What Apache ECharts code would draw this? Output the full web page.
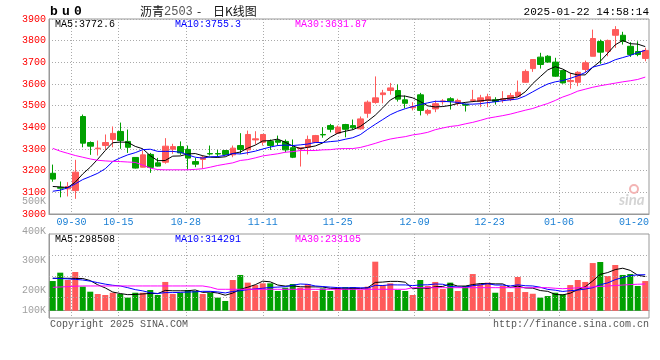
<!DOCTYPE html>
<html><head><meta charset="utf-8">
<script src="https://cdn.jsdelivr.net/npm/echarts@6/dist/echarts.min.js"></script>
<style>html,body{margin:0;padding:0;background:#fff}#c{width:660px;height:360px}</style>
</head><body><div id="c"></div>
<script>
// ---------- data ----------
const dates = ['09-25','09-26','09-27','09-30','10-08','10-09','10-10','10-11','10-14','10-15','10-16','10-17','10-18','10-21','10-22','10-23','10-24','10-25','10-28','10-29','10-30','10-31','11-01','11-04','11-05','11-06','11-07','11-08','11-11','11-12','11-13','11-14','11-15','11-18','11-19','11-20','11-21','11-22','11-25','11-26','11-27','11-28','11-29','12-02','12-03','12-04','12-05','12-06','12-09','12-10','12-11','12-12','12-13','12-16','12-17','12-18','12-19','12-20','12-23','12-24','12-25','12-26','12-27','12-30','12-31','01-02','01-03','01-06','01-07','01-08','01-09','01-10','01-13','01-14','01-15','01-16','01-17','01-20','01-21','01-22'];
const opens  = [3188,3122,3116,3108,3450,3330,3301,3316,3344,3381,3335,3261,3216,3275,3236,3239,3299,3311,3298,3242,3252,3279,3279,3293,3273,3316,3296,3342,3331,3335,3339,3335,3306,3301,3308,3331,3367,3408,3373,3413,3408,3393,3465,3515,3551,3570,3570,3527,3490,3550,3465,3485,3518,3532,3511,3506,3524,3519,3524,3527,3527,3528,3544,3608,3671,3724,3728,3701,3662,3611,3608,3667,3728,3796,3751,3825,3825,3774,3750,3718];
const closes = [3161,3119,3127,3193,3327,3313,3304,3330,3372,3339,3308,3212,3273,3215,3221,3313,3311,3282,3258,3230,3262,3277,3277,3275,3304,3298,3367,3347,3367,3316,3331,3296,3262,3306,3344,3362,3365,3391,3401,3391,3398,3439,3516,3536,3559,3582,3530,3511,3496,3478,3478,3509,3522,3521,3524,3502,3527,3536,3541,3519,3532,3547,3562,3658,3713,3690,3701,3636,3605,3616,3654,3698,3810,3747,3801,3851,3797,3736,3736,3755];
const lows   = [3149,3077,3081,3070,3308,3273,3270,3296,3308,3301,3282,3210,3215,3190,3219,3232,3278,3273,3205,3216,3209,3270,3262,3272,3262,3278,3273,3321,3316,3296,3316,3285,3258,3219,3275,3328,3352,3377,3370,3354,3389,3389,3444,3509,3511,3551,3519,3488,3478,3455,3455,3470,3505,3482,3501,3473,3516,3493,3493,3505,3513,3521,3541,3605,3656,3671,3698,3633,3602,3578,3590,3652,3728,3693,3728,3767,3782,3725,3728,3705];
const highs  = [3228,3150,3147,3250,3459,3335,3339,3367,3404,3422,3390,3262,3293,3282,3259,3350,3324,3335,3316,3259,3270,3316,3296,3295,3316,3373,3385,3382,3367,3344,3362,3344,3344,3306,3362,3365,3401,3416,3408,3416,3436,3450,3524,3635,3573,3605,3598,3547,3516,3559,3485,3524,3530,3539,3532,3510,3573,3550,3555,3539,3567,3559,3616,3667,3713,3744,3733,3721,3665,3652,3659,3708,3851,3805,3805,3867,3841,3793,3797,3767];
const ma5  = [3127,3125,3122,3147,3185,3216,3253,3293,3329,3332,3331,3312,3301,3269,3246,3247,3267,3268,3277,3279,3269,3262,3261,3264,3279,3286,3304,3318,3337,3339,3346,3331,3314,3302,3308,3314,3328,3354,3373,3382,3389,3404,3429,3456,3490,3526,3545,3544,3536,3519,3499,3494,3496,3501,3510,3515,3519,3522,3526,3525,3531,3535,3540,3564,3602,3634,3665,3680,3669,3650,3642,3642,3677,3705,3742,3781,3801,3786,3784,3772.6];
const ma10 = [3105,3110,3121,3139,3159,3173,3188,3209,3242,3259,3273,3283,3297,3299,3289,3289,3289,3285,3273,3262,3258,3264,3265,3271,3279,3277,3283,3290,3300,3309,3316,3318,3316,3319,3323,3330,3330,3334,3337,3345,3352,3366,3391,3414,3436,3458,3474,3486,3496,3505,3513,3520,3520,3518,3515,3507,3507,3509,3514,3518,3523,3527,3531,3545,3564,3583,3600,3610,3616,3626,3638,3653,3678,3687,3696,3712,3722,3732,3745,3755.3];
const ma30 = [3303,3290,3280,3270,3262,3254,3248,3245,3243,3242,3240,3238,3226,3212,3205,3204,3204,3204,3204,3206,3209,3216,3224,3230,3236,3247,3251,3259,3268,3273,3278,3285,3288,3293,3293,3293,3296,3297,3301,3302,3302,3307,3316,3326,3337,3346,3352,3357,3365,3370,3377,3389,3397,3404,3408,3416,3423,3432,3442,3448,3454,3461,3470,3479,3487,3499,3510,3524,3540,3552,3567,3576,3585,3592,3598,3604,3610,3615,3621,3631.87];
const volumes = [259,332,268,338,210,166,146,137,157,146,114,157,157,181,137,251,146,157,181,172,146,157,114,85,268,312,245,224,239,239,172,201,233,201,233,172,195,172,200,207,207,181,210,428,224,239,181,172,137,268,216,251,189,245,172,216,320,233,245,157,216,163,294,163,148,114,128,157,143,224,268,251,416,425,303,399,312,320,216,259].map(v => v * 1000);
const volMa5  = [283,283,283,282,281,263,226,199,163,150,140,142,146,151,149,177,174,174,174,181,160,163,154,135,154,187,205,227,258,252,224,215,217,209,208,208,207,195,194,189,196,193,201,247,250,256,256,249,191,199,195,209,212,234,215,215,228,237,237,234,234,203,215,199,197,176,169,142,138,153,184,209,260,317,333,359,371,352,310,298.508].map(v => v * 1000);
const volMa10 = [283,281,278,274,268,258,245,232,222,216,201,184,173,157,150,158,158,160,163,165,169,169,164,155,168,174,184,190,196,203,206,210,222,233,230,216,211,206,202,199,202,200,198,221,220,226,225,225,219,225,226,233,231,212,207,205,219,225,236,224,224,216,226,218,216,205,186,179,168,175,180,189,201,227,243,271,290,306,313,314.291].map(v => v * 1000);
const volMa30 = [204,207,210,214,216,216,216,216,216,216,216,216,216,216,216,216,216,216,216,216,216,205,187,187,187,187,187,187,187,187,187,187,187,187,187,187,187,187,187,187,187,187,187,187,187,187,187,187,201,201,201,201,201,201,201,201,201,201,201,201,201,201,201,201,201,201,201,196,192,196,200,204,208,212,216,220,224,228,231,233.105].map(v => v * 1000);
const priceTicks = [3000, 3900, 100];              // min, max, step
const volTickLabels = ['500K', '400K', '300K', '200K', '100K'];
const labelDates = ['09-30','10-15','10-28','11-11','11-25','12-09','12-23','01-06','01-20'];
const gridDates  = ['09-30','10-15','10-28','11-11','11-25','12-09','12-23','01-06'];
const legendMain = ['MA5:3772.6', 'MA10:3755.3', 'MA30:3631.87'];
const legendVol  = ['MA5:298508', 'MA10:314291', 'MA30:233105'];

// ---------- layout / style ----------
const UP = '#ff5a5a', DOWN = '#00a000';
const MA_COLORS = ['#000000', '#0000ff', '#ff00ff'];
const MONO = "'Liberation Mono','DejaVu Sans Mono',monospace";
const CJK = "'Noto Sans CJK SC'";
const GRID_COLOR = '#aaaaaa', FRAME = '#999999';
const volLabelY = [201, 231, 260, 290.5, 310.5];
const VOL_MIN = -63700, VOL_MAX = 669600;
// gridline / date-label nudge, in quarter-candle steps (how the original draws them)
const labelNudge = [-2, -1, -1, 0, 0, 1, 1, 2, 2];

// a fine helper axis: 4 steps per candle, point 4*i+2 is the centre of candle i
const N = dates.length, STEPS = 4 * N + 1;
const fineCats = Array.from({ length: STEPS }, (_, j) => 'p' + j);
const labelAt = {}; const gridAt = new Set();
labelDates.forEach((d, k) => { const j = 4 * dates.indexOf(d) + 2 + labelNudge[k]; labelAt[j] = d; if (gridDates.includes(d)) gridAt.add(j); });

const candleData = opens.map((o, i) => [o, closes[i], lows[i], highs[i]]);
const volData = volumes.map((v, i) => ({ value: v, itemStyle: { color: closes[i] >= opens[i] ? UP : DOWN } }));
const volStep = (VOL_MAX - VOL_MIN) / 4;
const volGridVals = [1, 2, 3].map(k => VOL_MIN + k * volStep);

const chart = echarts.init(document.getElementById('c'), null, { renderer: 'canvas', width: 660, height: 360 });

function maLine(name, data, color, xi, yi) {
  return { name, type: 'line', data, xAxisIndex: xi, yAxisIndex: yi, symbol: 'none', smooth: false,
    lineStyle: { color, width: 1 }, silent: true, z: 5 };
}
const dotted = { type: [1, 2], color: GRID_COLOR, width: 1 };

const txt = (text, x, y, opts) => ({ type: 'text', x, y, silent: true, z: 100,
  style: Object.assign({ text, font: '10px ' + MONO, fill: '#000', textAlign: 'left', textVerticalAlign: 'middle', align: 'left', verticalAlign: 'middle' }, opts || {}) });

const graphics = [
  txt('b', 50, 12, { font: 'bold 13px ' + MONO }),
  txt('u', 62, 12, { font: 'bold 13px ' + MONO }),
  txt('0', 74, 12, { font: 'bold 13px ' + MONO }),
  txt('沥青', 140, 11, { font: '12px ' + CJK, fill: '#111' }),
  txt('2503', 164, 11.5, { font: '12px ' + MONO, fill: '#555' }),
  txt('-', 197, 11, { font: '12px ' + CJK, fill: '#111' }),
  txt('日K线图', 213, 11, { font: '12px ' + CJK, fill: '#111' }),
  txt('2025-01-22 14:58:14', 649, 12, { textAlign: 'right', align: 'right', font: '11px ' + MONO }),
  txt(legendMain[0], 55, 24, { fill: MA_COLORS[0] }),
  txt(legendMain[1], 175, 24, { fill: MA_COLORS[1] }),
  txt(legendMain[2], 295, 24, { fill: MA_COLORS[2] }),
  txt(legendVol[0], 55, 239, { fill: MA_COLORS[0] }),
  txt(legendVol[1], 175, 239, { fill: MA_COLORS[1] }),
  txt(legendVol[2], 295, 239, { fill: MA_COLORS[2] }),
  txt('Copyright 2025 SINA.COM', 50, 324, { fill: '#555' }),
  txt('http://finance.sina.com.cn', 649, 324, { fill: '#555', textAlign: 'right', align: 'right' }),
  txt('sina', 619, 200, { font: 'italic bold 15px Lato', fill: '#d4d4d4' }),
  { type: 'circle', shape: { cx: 634, cy: 189, r: 4 }, style: { fill: 'none', stroke: '#f3b4b4', lineWidth: 2 }, silent: true, z: 1 }
];
volTickLabels.forEach((t, i) => graphics.push(txt(t, 46, volLabelY[i], { fill: '#a0a0a0', textAlign: 'right', align: 'right' })));

const G_LEFT = 49, G_WIDTH = 600;
const option = {
  animation: false,
  backgroundColor: '#fff',
  grid: [
    { left: G_LEFT, width: G_WIDTH, top: 19, height: 195, show: true, borderColor: FRAME, borderWidth: 1, backgroundColor: 'transparent' },
    { left: G_LEFT, width: G_WIDTH, top: 234, height: 84, show: true, borderColor: FRAME, borderWidth: 1, backgroundColor: 'transparent' }
  ],
  xAxis: [
    { type: 'category', gridIndex: 0, data: dates, boundaryGap: true,
      axisLine: { show: true, lineStyle: { color: FRAME } }, axisTick: { show: false }, axisLabel: { show: false }, splitLine: { show: false } },
    { type: 'category', gridIndex: 0, data: fineCats, boundaryGap: false, position: 'bottom',
      axisLine: { show: false }, axisTick: { show: false },
      axisLabel: { show: true, interval: (i) => labelAt[i] !== undefined, formatter: (v, i) => labelAt[i] || '',
        color: '#1a7fd4', fontFamily: MONO, fontSize: 10, margin: 3 },
      splitLine: { show: true, interval: (i) => gridAt.has(i), lineStyle: dotted } },
    { type: 'category', gridIndex: 1, data: dates, boundaryGap: true,
      axisLine: { show: true, lineStyle: { color: FRAME } }, axisTick: { show: false }, axisLabel: { show: false }, splitLine: { show: false } },
    { type: 'category', gridIndex: 1, data: fineCats, boundaryGap: false,
      axisLine: { show: false }, axisTick: { show: false }, axisLabel: { show: false },
      splitLine: { show: true, interval: (i) => gridAt.has(i), lineStyle: dotted } }
  ],
  yAxis: [
    { type: 'value', gridIndex: 0, min: priceTicks[0], max: priceTicks[1], interval: priceTicks[2],
      axisLine: { show: true, lineStyle: { color: FRAME } }, axisTick: { show: false },
      axisLabel: { color: '#ff0000', fontFamily: MONO, fontSize: 10, margin: 3, padding: [0, 0, 3, 0], formatter: (v) => String(v) },
      splitLine: { show: true, lineStyle: dotted } },
    { type: 'value', gridIndex: 1, min: VOL_MIN, max: VOL_MAX,
      axisLine: { show: true, lineStyle: { color: FRAME } }, axisTick: { show: false }, axisLabel: { show: false }, splitLine: { show: false } }
  ],
  series: [
    { type: 'candlestick', xAxisIndex: 0, yAxisIndex: 0, data: candleData, barWidth: 6,
      itemStyle: { color: UP, color0: DOWN, borderColor: UP, borderColor0: DOWN, borderWidth: 1 }, silent: true, z: 3 },
    maLine('MA5', ma5, MA_COLORS[0], 0, 0),
    maLine('MA10', ma10, MA_COLORS[1], 0, 0),
    maLine('MA30', ma30, MA_COLORS[2], 0, 0),
    { type: 'bar', xAxisIndex: 2, yAxisIndex: 1, data: volData, barWidth: 6, silent: true, z: 3,
      markLine: { silent: true, symbol: ['none', 'none'], label: { show: false }, lineStyle: dotted,
        data: volGridVals.map(v => ({ yAxis: v })) } },
    maLine('VMA5', volMa5, MA_COLORS[0], 2, 1),
    maLine('VMA10', volMa10, MA_COLORS[1], 2, 1),
    maLine('VMA30', volMa30, MA_COLORS[2], 2, 1)
  ],
  graphic: graphics
};
chart.setOption(option);
</script>
</body></html>
